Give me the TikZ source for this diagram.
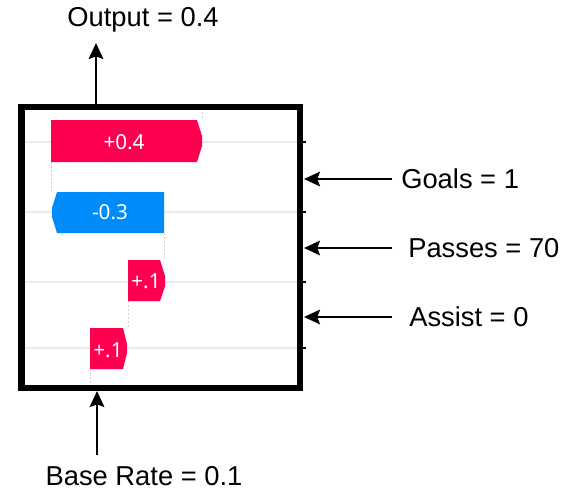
\documentclass[tikz,border=0pt]{standalone}
\usepackage{fontspec}
\setmainfont{Liberation Sans}
\newfontfamily\barfont{Noto Sans}
\usetikzlibrary{arrows.meta}
\definecolor{shappos}{HTML}{FF0051}
\definecolor{shapneg}{HTML}{008BFB}
\definecolor{gridc}{HTML}{EBEBEB}
\definecolor{dashc}{HTML}{D0D0D0}
\tikzset{
  lbl/.style={inner sep=0pt, font=\fontsize{20.5}{24}\selectfont},
  arr/.style={line width=1.5pt, -{Stealth[length=12pt,width=11pt,inset=2pt]}},
  bartext/.style={inner sep=0pt, text=white, font=\barfont\fontsize{15.5}{18}\selectfont},
  gridline/.style={gridc, line width=0.8pt},
  conn/.style={dashc, line width=0.6pt, dash pattern=on 1.5pt off 1.5pt},
  frame/.style={line width=5pt},
  tick/.style={line width=1.2pt}
}
\begin{document}
\begin{tikzpicture}[x=0.75pt,y=-0.75pt]
\useasboundingbox (0,0) rectangle (570,492);
% grid lines
\foreach \yy in {142,212,282,348}{
  \draw[gridline] (25,\yy) -- (297,\yy);
  \draw[tick] (302,\yy) -- (306,\yy);
}
% dashed connectors
\draw[conn] (202,104) -- (202,120);
\draw[conn] (51,162) -- (51,192);
\draw[conn] (164,233) -- (164,260);
\draw[conn] (128,301) -- (128,328);
\draw[conn] (90,369) -- (90,385);
% bars
\fill[shappos] (51,120) -- (197,120) -- (202,136) -- (202,146) -- (197,162) -- (51,162) -- cycle;
\fill[shapneg] (57,192) -- (164,192) -- (164,233) -- (57,233) -- (52,217) -- (52,208) -- cycle;
\fill[shappos] (128,260) -- (160,260) -- (165,276) -- (165,286) -- (160,301) -- (128,301) -- cycle;
\fill[shappos] (90,328) -- (123,328) -- (127,344) -- (127,353) -- (123,369) -- (90,369) -- cycle;
\node[bartext] (b1) at (124,142) {+0.4};
\node[bartext] (b2) at (110,212) {-0.3};
\node[bartext] (b3) at (146,281) {+.1};
\node[bartext] (b4) at (108,350) {+.1};
% frame
\draw[frame] (21.5,107) rectangle (300,388);
\coordinate (otop) at (96,104.5);
\coordinate (otip) at (96,43);
\coordinate (bbot) at (97,391);
\coordinate (btail) at (97,455);
\coordinate (gin) at (304,179);
\coordinate (pin) at (304,248);
\coordinate (ain) at (304,317);
% labels
\node[lbl] (out) at (143,20) {Output = 0.4};
\node[lbl] (base) at (144,476) {Base Rate = 0.1};
\node[lbl, anchor=west] (goals) at (401,179) {Goals = 1};
\node[lbl, anchor=west] (passes) at (408,248) {Passes = 70};
\node[lbl, anchor=west] (assist) at (409,317) {Assist = 0};
% arrows
\draw[arr] (otop) -- (otip);
\draw[arr] (btail) -- (bbot);
\draw[arr] ([xshift=-6.75pt]goals.west) -- (gin);
\draw[arr] ([xshift=-12pt]passes.west) -- (pin);
\draw[arr] ([xshift=-12.75pt]assist.west) -- (ain);
\end{tikzpicture}
\end{document}
